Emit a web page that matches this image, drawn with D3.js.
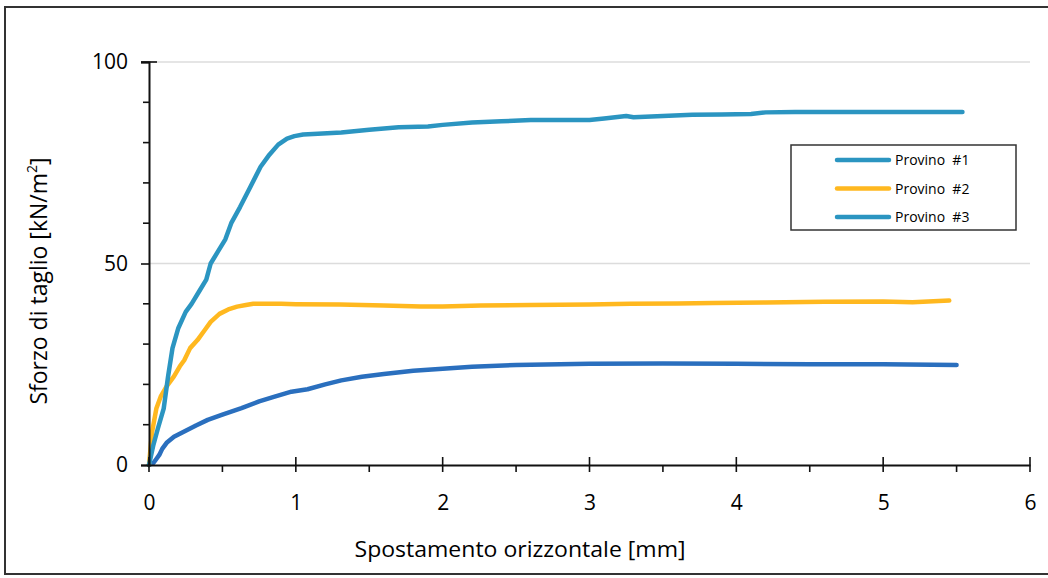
<!DOCTYPE html>
<html>
<head>
<meta charset="utf-8">
<script src="https://cdn.jsdelivr.net/npm/d3@7/dist/d3.min.js"></script>
<style>
html,body{margin:0;padding:0;background:#fff;}
svg{display:block;}
text{font-family:"Open Sans",sans-serif;fill:#000;}
</style>
</head>
<body>
<svg id="chart" width="1048" height="578"></svg>
<script>
// ---- data ----
const seriesNames = ["Provino  #1", "Provino  #2", "Provino  #3"];
const seriesColors = ["#2a6fbe", "#ffb81f", "#2b95c1"];

const p1x = [0, 0.03, 0.05, 0.07, 0.09, 0.12, 0.17, 0.25, 0.32, 0.4, 0.5, 0.63, 0.75, 0.85, 0.97, 1.08, 1.2, 1.31, 1.45, 1.6, 1.8, 2.0, 2.2, 2.5, 2.8, 3.0, 3.5, 4.0, 4.5, 5.0, 5.5];
const p1y = [0, 0.5, 1.5, 2.5, 4, 5.5, 7, 8.5, 9.8, 11.2, 12.5, 14.1, 15.8, 16.9, 18.2, 18.8, 20, 21, 21.9, 22.6, 23.4, 23.9, 24.4, 24.8, 25, 25.1, 25.2, 25.1, 25.0, 25.0, 24.8];

const p2x = [0, 0.02, 0.05, 0.08, 0.12, 0.17, 0.21, 0.24, 0.28, 0.33, 0.38, 0.42, 0.48, 0.54, 0.6, 0.66, 0.71, 0.8, 0.9, 1.0, 1.3, 1.6, 1.85, 2.0, 2.26, 2.6, 3.0, 3.28, 3.6, 3.84, 4.2, 4.6, 5.0, 5.2, 5.45];
const p2y = [0, 8, 14, 17, 19.5, 22, 24.5, 26, 29, 31, 33.5, 35.5, 37.5, 38.6, 39.3, 39.7, 40, 40, 40, 39.9, 39.8, 39.6, 39.3, 39.3, 39.6, 39.7, 39.8, 40, 40.1, 40.2, 40.3, 40.5, 40.6, 40.4, 40.8];

const p3x = [0, 0.03, 0.06, 0.1, 0.13, 0.16, 0.2, 0.25, 0.29, 0.34, 0.39, 0.42, 0.47, 0.52, 0.56, 0.62, 0.69, 0.76, 0.82, 0.88, 0.94, 0.99, 1.05, 1.15, 1.31, 1.5, 1.7, 1.9, 2.0, 2.2, 2.4, 2.6, 2.8, 3.0, 3.1, 3.25, 3.3, 3.5, 3.7, 3.9, 4.1, 4.2, 4.4, 4.7, 5.0, 5.3, 5.54];
const p3y = [0, 5, 9, 14, 22, 29, 34, 38, 40, 43, 46, 50, 53, 56, 60, 64, 69, 74, 77, 79.5, 81, 81.6, 82, 82.2, 82.5, 83.2, 83.8, 84, 84.4, 85.0, 85.3, 85.6, 85.6, 85.6, 86.0, 86.6, 86.3, 86.6, 86.9, 87.0, 87.1, 87.5, 87.6, 87.6, 87.6, 87.6, 87.6];

const xTicks = [0, 1, 2, 3, 4, 5, 6];
const xMinorTicks = [0.5, 1.5, 2.5, 3.5, 4.5, 5.5];
const yTicks = [0, 50, 100];
const yMinorTicks = [10, 20, 30, 40, 60, 70, 80, 90];
const xTitle = "Spostamento orizzontale [mm]";
const yTitle = "Sforzo di taglio [kN/m";

// ---- drawing ----
const svg = d3.select("#chart");
const X0 = 149, X1 = 1030, Y0 = 465, Y1 = 62;
const x = d3.scaleLinear().domain([0, 6]).range([X0, X1]);
const y = d3.scaleLinear().domain([0, 100]).range([Y0, Y1]);

// outer frame
svg.append("rect").attr("x", 5).attr("y", 7).attr("width", 1070).attr("height", 567)
  .attr("fill", "none").attr("stroke", "#333").attr("stroke-width", 2);

// gridlines
svg.append("g").selectAll("line").data([50, 100]).join("line")
  .attr("x1", X0).attr("x2", X1).attr("y1", d => y(d)).attr("y2", d => y(d))
  .attr("stroke", "#dcdcdc").attr("stroke-width", 1.5);

// series
const series = [[p1x, p1y], [p2x, p2y], [p3x, p3y]];
const line = d3.line().x(d => x(d[0])).y(d => y(d[1])).curve(d3.curveLinear);
series.forEach((s, i) => {
  const pts = s[0].map((v, j) => [v, s[1][j]]);
  svg.append("path").datum(pts).attr("d", line)
    .attr("fill", "none").attr("stroke", seriesColors[i]).attr("stroke-width", 4.5)
    .attr("stroke-linejoin", "round").attr("stroke-linecap", "round");
});

// x axis
const xAxisG = svg.append("g").attr("transform", `translate(0,${Y0})`);
xAxisG.call(d3.axisBottom(x).tickValues(xTicks).tickSize(0).tickPadding(30).tickFormat(d3.format("d")));
xAxisG.select(".domain").attr("stroke", "#111").attr("stroke-width", 2);
xAxisG.selectAll("text").attr("font-size", 21).attr("font-family", "Open Sans").attr("fill", "#000");
xAxisG.selectAll(".tickmark").data(xTicks).join("line").attr("class", "tickmark")
  .attr("x1", d => x(d)).attr("x2", d => x(d)).attr("y1", -8).attr("y2", 7)
  .attr("stroke", "#111").attr("stroke-width", 1.6);
xAxisG.selectAll(".minor").data(xMinorTicks).join("line").attr("class", "minor")
  .attr("x1", d => x(d)).attr("x2", d => x(d)).attr("y1", 0).attr("y2", 7)
  .attr("stroke", "#111").attr("stroke-width", 1.6);

// y axis
const yAxisG = svg.append("g").attr("transform", `translate(${X0},0)`);
yAxisG.call(d3.axisLeft(y).tickValues(yTicks).tickSize(8).tickPadding(13).tickFormat(d3.format("d")));
yAxisG.select(".domain").attr("stroke", "#111").attr("stroke-width", 2);
yAxisG.selectAll(".tick line").attr("stroke", "#111").attr("stroke-width", 1.6);
yAxisG.selectAll("text").attr("font-size", 21).attr("font-family", "Open Sans").attr("fill", "#000");
yAxisG.selectAll(".minor").data(yMinorTicks).join("line").attr("class", "minor")
  .attr("x1", -6).attr("x2", 0).attr("y1", d => y(d)).attr("y2", d => y(d))
  .attr("stroke", "#111").attr("stroke-width", 1.6);
yAxisG.append("line").attr("x1", -8).attr("x2", 8).attr("y1", Y1).attr("y2", Y1)
  .attr("stroke", "#111").attr("stroke-width", 1.6);

// titles
svg.append("text").attr("x", 520).attr("y", 557).attr("text-anchor", "middle")
  .attr("font-size", 21).attr("textLength", 331).attr("lengthAdjust", "spacingAndGlyphs").text(xTitle);
const yt = svg.append("text").attr("transform", "translate(47,281) rotate(-90)")
  .attr("text-anchor", "middle").attr("font-size", 23);
yt.append("tspan").text(yTitle);
yt.append("tspan").attr("font-size", 14).attr("dy", -10).text("2");
yt.append("tspan").attr("dy", 10).text("]");

// legend
const lg = svg.append("g");
lg.append("rect").attr("x", 791).attr("y", 145).attr("width", 225).attr("height", 85)
  .attr("fill", "#fff").attr("stroke", "#333").attr("stroke-width", 1.5);
seriesNames.forEach((n, i) => {
  const yy = 160 + i * 28.5;
  lg.append("line").attr("x1", 837).attr("x2", 889).attr("y1", yy).attr("y2", yy)
    .attr("stroke", i === 0 ? seriesColors[2] : seriesColors[i]).attr("stroke-width", 4.5).attr("stroke-linecap", "round");
  lg.append("text").attr("x", 895).attr("y", yy + 5).attr("font-size", 14)
    .attr("fill", "#222").attr("xml:space", "preserve").text(n);
});
</script>
</body>
</html>
